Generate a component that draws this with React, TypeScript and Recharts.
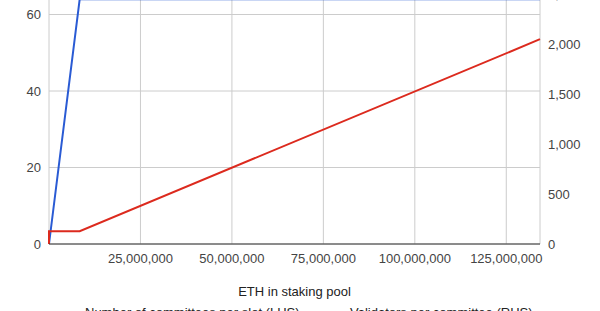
import React from 'react';
import { LineChart, Line, XAxis, YAxis, CartesianGrid } from 'recharts';

// ETH staked, and what the protocol does with it at each point
const stakeEth = [0, 32, 8388608, 134217728];
const committeesPerSlot = [0, 0, 64, 64];
const validatorsPerCommittee = [0, 128, 128, 2048];

const xTicks = [25000000, 50000000, 75000000, 100000000, 125000000];
const leftTicks = [0, 20, 40, 60];
const rightTicks = [0, 500, 1000, 1500, 2000, 2500];

const seriesNames = ['Number of committees per slot (LHS)', 'Validators per committee (RHS)'];
const BLUE = '#2a5bd4';
const RED = '#dc2a1e';

const data = stakeEth.map((eth, i) => ({
    eth,
    committees: committeesPerSlot[i],
    members: validatorsPerCommittee[i],
}));

const fmt = (v: number) => v.toLocaleString('en-US');
const font = '"Liberation Sans", Arial, sans-serif';
const tickStyle = { fontSize: 13, fill: '#444', fontFamily: font };

const App: React.FC = () => {
    return (
        <div style={{ position: 'absolute', left: 0, top: 0, width: 600, height: 311, overflow: 'hidden', background: '#fff', fontFamily: font }}>
            <div style={{ position: 'absolute', left: 0, top: -70 }}>
                <LineChart width={600} height={381} data={data} margin={{ top: 8, right: 0, left: 0, bottom: 37 }}>
                    <CartesianGrid stroke="#ccc" vertical horizontal yAxisId="left" />
                    <XAxis
                        dataKey="eth"
                        type="number"
                        domain={[0, 134217728]}
                        ticks={xTicks}
                        tickFormatter={fmt}
                        tick={tickStyle}
                        tickLine={false}
                        tickMargin={4}
                        stroke="#333"
                        height={30}
                        label={{ value: 'ETH in staking pool', position: 'bottom', offset: 13, style: { fontSize: 13, fill: '#222', fontFamily: font } }}
                    />
                    <YAxis yAxisId="left" domain={[0, 80]} ticks={leftTicks} tick={tickStyle} tickLine={false} axisLine={false} width={49} />
                    <YAxis yAxisId="right" orientation="right" domain={[0, 3060]} ticks={rightTicks} tickFormatter={fmt} tick={{ ...tickStyle, textAnchor: 'start' }} tickLine={false} axisLine={false} width={60} />
                    <Line yAxisId="left" type="linear" dataKey="committees" stroke={BLUE} strokeWidth={2} dot={false} isAnimationActive={false} />
                    <Line yAxisId="right" type="linear" dataKey="members" stroke={RED} strokeWidth={2} dot={false} isAnimationActive={false} />
                </LineChart>
            </div>
            <div style={{ position: 'absolute', top: 305, left: 0, width: 600, fontSize: 13, lineHeight: '15px', color: '#222' }}>
                <span style={{ position: 'absolute', left: 58, top: 8, width: 22, height: 2, background: BLUE }} />
                <span style={{ position: 'absolute', left: 85, top: 0, whiteSpace: 'nowrap' }}>{seriesNames[0]}</span>
                <span style={{ position: 'absolute', left: 323, top: 8, width: 22, height: 2, background: RED }} />
                <span style={{ position: 'absolute', left: 350, top: 0, whiteSpace: 'nowrap' }}>{seriesNames[1]}</span>
            </div>
        </div>
    );
};

export default App;
